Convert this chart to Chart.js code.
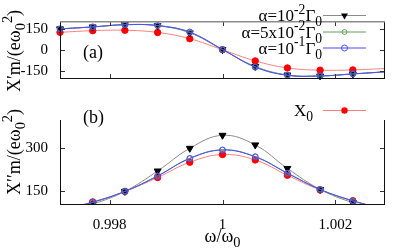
<!DOCTYPE html>
<html>
<head>
<meta charset="utf-8">
<script src="https://cdn.jsdelivr.net/npm/chart.js@4.4.1/dist/chart.umd.min.js"></script>
<style>
  html, body { margin:0; padding:0; background:#fff; }
  #wrap { position:relative; width:405px; height:249px; overflow:hidden; }
  canvas { position:absolute; left:0; }
  #topChart { top:0; }
  #botChart { top:99px; }
</style>
</head>
<body>
<div id="wrap">
  <canvas id="topChart" width="405" height="100"></canvas>
  <canvas id="botChart" width="405" height="150"></canvas>
</div>
<script>
// ======= Data =======
const OMEGA = [0.99712, 0.99770, 0.99827, 0.99885, 0.99942, 1.00000, 1.00058, 1.00115, 1.00173, 1.00231, 1.00288];

// (a) X' m/(e w0^2)
const A_ALPHA1  = [153, 167, 184, 176, 124, 3, -119, -181, -188, -174, -159];
const A_ALPHA5  = [153, 167, 183, 177, 127, 3, -121, -182, -188, -173, -158];
const A_ALPHA10 = [153, 167, 183, 177, 130, 4, -124, -183, -188, -173, -158];
const A_X0      = [128, 140, 143, 127, 82, 2, -79, -130, -146, -144, -134];

// (b) X'' m/(e w0^2)
const B_ALPHA1  = [70, 103, 148, 220, 300, 346, 312, 229, 155, 108, 76];
const B_ALPHA5  = [79, 109, 148, 203, 265, 295, 271, 213, 155, 114, 84];
const B_ALPHA10 = [80, 110, 148, 202, 264, 294, 270, 212, 155, 115, 85];
const B_X0      = [82, 111, 148, 197, 251, 278, 259, 205, 153, 115, 86];

// marker indices (the edge samples only carry the line)
const MARKS_A = [0, 1, 2, 3, 4, 5, 6, 7, 8, 9];
const MARKS_B = [1, 2, 3, 4, 5, 6, 7, 8, 9];

// axes
const X_MIN = 0.99712, X_MAX = 1.00288;
const X_TICKS = [0.998, 1, 1.002];
const X_TICK_LABELS = ["0.998", "1", "1.002"];
const A_RANGE = [-210, 210];
const A_TICKS = [150, 0, -150];
const A_TICK_LABELS = ["150", "0", "-150"];
const B_RANGE = [100, 400];
const B_TICKS = [300, 150];
const B_TICK_LABELS = ["300", "150"];

// labels (rich text: "^" = superscript, "_" = subscript)
const LEG_ALPHA1  = ["α=10", "^-2", "Γ", "_0"];
const LEG_ALPHA5  = ["α=5x10", "^-2", "Γ", "_0"];
const LEG_ALPHA10 = ["α=10", "^-1", "Γ", "_0"];
const LEG_X0      = ["X", "_0"];
const TITLE_A = ["X′m/(eω", "_0", "^2", ")"];
const TITLE_B = ["X′′m/(eω", "_0", "^2", ")"];
const TITLE_X = ["ω/ω", "_0"];

// ======= Styles =======
const SERIF = '"Liberation Serif", "DejaVu Serif", serif';
const STYLE = {
  a1:  { line:"#8a8a8a", mark:"#000000", shape:"triangle", r:4,   fill:true,  order:2 },
  a5:  { line:"#5f9f5f", mark:"#5f9f5f", shape:"circle",   r:2.5, fill:false, order:1 },
  a10: { line:"#4b4bff", mark:"#4b4bff", shape:"circle",   r:3,   fill:false, order:0 },
  x0:  { line:"#ff7f7f", mark:"#ff0000", shape:"circle",   r:3.2, fill:true,  order:3 },
};

// ======= Helpers =======
function makeSet(label, st, ys, marks){
  return {
    label,
    data: OMEGA.map((x, i) => ({ x, y: ys[i] })),
    borderColor: st.line,
    borderWidth: 1,
    tension: 0.4,
    pointStyle: st.shape,
    rotation: st.shape === "triangle" ? 180 : 0,
    pointRadius: OMEGA.map((_, i) => marks.includes(i) ? st.r : 0),
    pointBackgroundColor: st.fill ? st.mark : "rgba(0,0,0,0)",
    pointBorderColor: st.mark,
    pointBorderWidth: 1,
    order: st.order
  };
}

function drawRich(ctx, segs, x, y, size, align){
  const parts = segs.map(s => {
    const sup = s[0] === "^", sub = s[0] === "_";
    const t = (sup || sub) ? s.slice(1) : s;
    const fs = (sup || sub) ? size * 0.8 : size;
    ctx.font = `${fs}px ${SERIF}`;
    return { t, fs, w: ctx.measureText(t).width, dy: sub ? size * 0.3 : sup ? -size * 0.42 : 0 };
  });
  const total = parts.reduce((s, p) => s + p.w, 0);
  let cx = align === "right" ? x - total : align === "center" ? x - total / 2 : x;
  ctx.textAlign = "left";
  ctx.textBaseline = "alphabetic";
  for (const p of parts){
    ctx.font = `${p.fs}px ${SERIF}`;
    ctx.fillText(p.t, cx, y + p.dy);
    cx += p.w;
  }
}

function drawMark(ctx, st, x, y){
  ctx.save();
  ctx.lineWidth = 1;
  ctx.strokeStyle = st.mark;
  ctx.fillStyle = st.mark;
  ctx.beginPath();
  if (st.shape === "triangle"){
    const r = st.r;
    ctx.moveTo(x - r * 0.866, y - r * 0.5);
    ctx.lineTo(x + r * 0.866, y - r * 0.5);
    ctx.lineTo(x, y + r);
    ctx.closePath();
  } else {
    ctx.arc(x, y, st.r, 0, Math.PI * 2);
  }
  if (st.fill) ctx.fill(); else ctx.stroke();
  ctx.restore();
}

// frame, inward ticks, legend and labels
const decorPlugin = {
  id: "decor",
  afterDatasetsDraw(chart, args, o){
    const { ctx, chartArea: a } = chart;
    const sx = chart.scales.x, sy = chart.scales.y;
    ctx.save();
    // ticks
    ctx.strokeStyle = "#333";
    ctx.lineWidth = 1;
    ctx.beginPath();
    for (const v of X_TICKS){
      const px = Math.round(sx.getPixelForValue(v)) + 0.5;
      ctx.moveTo(px, a.bottom); ctx.lineTo(px, a.bottom - 5);
      if (o.topTicks){ ctx.moveTo(px, a.top); ctx.lineTo(px, a.top + 5); }
    }
    for (const v of o.yTicks){
      const py = Math.round(sy.getPixelForValue(v)) + 0.5;
      ctx.moveTo(a.left, py); ctx.lineTo(a.left + 5, py);
      ctx.moveTo(a.right, py); ctx.lineTo(a.right - 5, py);
    }
    ctx.stroke();
    // border
    ctx.strokeStyle = "#111";
    ctx.beginPath();
    ctx.moveTo(a.left + 0.5, a.top); ctx.lineTo(a.left + 0.5, a.bottom);
    ctx.moveTo(a.right - 0.5, a.top); ctx.lineTo(a.right - 0.5, a.bottom);
    ctx.moveTo(a.left, a.bottom - 0.5); ctx.lineTo(a.right, a.bottom - 0.5);
    ctx.stroke();
    if (o.topBorder){
      ctx.strokeStyle = "#8c8c8c";
      ctx.lineWidth = 1.5;
      ctx.beginPath();
      ctx.moveTo(a.left, a.top + 0.75); ctx.lineTo(a.right, a.top + 0.75);
      ctx.stroke();
    }
    // legend
    ctx.fillStyle = "#000";
    for (const item of o.legend){
      ctx.strokeStyle = item.st.line;
      ctx.lineWidth = 1;
      ctx.beginPath();
      ctx.moveTo(323, item.y + 0.5); ctx.lineTo(366, item.y + 0.5);
      ctx.stroke();
      drawMark(ctx, item.st, 344.5, item.y + 0.5);
      ctx.fillStyle = "#000";
      drawRich(ctx, item.text, o.legendRight, item.y + 6, 17, "right");
    }
    // panel label
    drawRich(ctx, [o.panel], 83, o.panelY, 18, "left");
    // y title (rotated)
    ctx.save();
    ctx.translate(20, o.titleY);
    ctx.rotate(-Math.PI / 2);
    drawRich(ctx, o.title, 0, 0, 18, "center");
    ctx.restore();
    if (o.xTitle) drawRich(ctx, o.xTitle, sx.getPixelForValue(1), o.xTitleY, 18, "center");
    ctx.restore();
  }
};

function yAxis(range, ticks, labels){
  return {
    type: "linear", position: "left", min: range[0], max: range[1],
    grid: { display: false, drawTicks: false }, border: { display: false },
    afterBuildTicks: s => { s.ticks = ticks.map(v => ({ value: v })); },
    afterFit: s => { s.width = 60; },
    ticks: { padding: 12, color: "#000", font: { family: SERIF, size: 15 },
      callback: v => labels[ticks.indexOf(v)] }
  };
}

// ======= Charts =======
Chart.defaults.animation = false;

new Chart(document.getElementById("topChart"), {
  type: "line",
  data: { datasets: [
    makeSet("a1", STYLE.a1, A_ALPHA1, MARKS_A),
    makeSet("a5", STYLE.a5, A_ALPHA5, MARKS_A),
    makeSet("a10", STYLE.a10, A_ALPHA10, MARKS_A),
    makeSet("x0", STYLE.x0, A_X0, MARKS_A),
  ].map(d => ({ ...d, clip: 6 })) },
  options: {
    responsive: false, animation: false,
    layout: { padding: { top: 3, right: 20, bottom: 1, left: 0 } },
    plugins: { legend: { display: false }, tooltip: { enabled: false },
      decor: {
        topTicks: true, topBorder: true, yTicks: A_TICKS,
        legendRight: 322,
        legend: [
          { st: STYLE.a1, y: 15, text: LEG_ALPHA1 },
          { st: STYLE.a5, y: 31.5, text: LEG_ALPHA5 },
          { st: STYLE.a10, y: 47.5, text: LEG_ALPHA10 },
        ],
        panel: "(a)", panelY: 57.5,
        title: TITLE_A, titleY: 51
      } },
    scales: {
      x: { type: "linear", min: X_MIN, max: X_MAX, display: false },
      y: yAxis(A_RANGE, A_TICKS, A_TICK_LABELS)
    }
  },
  plugins: [decorPlugin]
});

new Chart(document.getElementById("botChart"), {
  type: "line",
  data: { datasets: [
    makeSet("a1", STYLE.a1, B_ALPHA1, MARKS_B),
    makeSet("a5", STYLE.a5, B_ALPHA5, MARKS_B),
    makeSet("a10", STYLE.a10, B_ALPHA10, MARKS_B),
    makeSet("x0", STYLE.x0, B_X0, MARKS_B),
  ] },
  options: {
    responsive: false, animation: false,
    layout: { padding: { top: 0, right: 20, bottom: 0, left: 0 } },
    plugins: { legend: { display: false }, tooltip: { enabled: false },
      decor: {
        topTicks: false, topBorder: false, yTicks: B_TICKS,
        legendRight: 313,
        legend: [ { st: STYLE.x0, y: 11, text: LEG_X0 } ],
        panel: "(b)", panelY: 23.5,
        title: TITLE_B, titleY: 53,
        xTitle: TITLE_X, xTitleY: 143
      } },
    scales: {
      x: {
        type: "linear", min: X_MIN, max: X_MAX,
        grid: { display: false, drawTicks: false }, border: { display: false },
        afterBuildTicks: s => { s.ticks = X_TICKS.map(v => ({ value: v })); },
        afterFit: s => { s.height = 44; },
        ticks: { padding: 11, maxRotation: 0, autoSkip: false, color: "#000",
          font: { family: SERIF, size: 15 },
          callback: v => X_TICK_LABELS[X_TICKS.indexOf(v)] }
      },
      y: yAxis(B_RANGE, B_TICKS, B_TICK_LABELS)
    }
  },
  plugins: [decorPlugin]
});
</script>
</body>
</html>
